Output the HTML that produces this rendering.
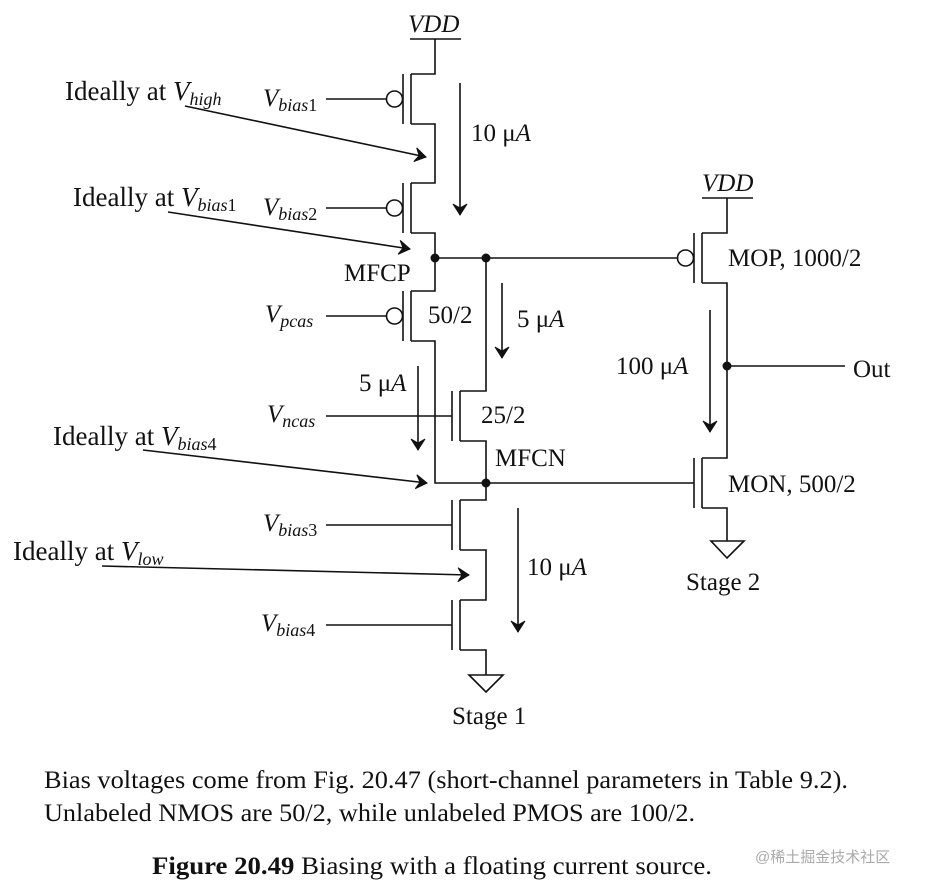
<!DOCTYPE html>
<html><head><meta charset="utf-8"><style>
html,body{margin:0;padding:0;background:#fff;}
svg{display:block;}
text{font-family:"Liberation Serif","Noto Serif CJK SC",serif;fill:#111;}
.l{font-size:25px;}
.k{font-size:27px;}
.s{font-size:18px;font-style:italic;}
.d{font-size:18px;}
.i{font-style:italic;}
</style></head><body>
<svg width="939" height="889" viewBox="0 0 939 889" xmlns="http://www.w3.org/2000/svg">
<defs>
<marker id="ah" markerWidth="16" markerHeight="16" refX="12" refY="8" orient="auto" markerUnits="userSpaceOnUse">
<path d="M1,1 L12,8 L1,15 L5,8 Z" fill="#111" stroke="#111" stroke-width="1"/>
</marker>
</defs>
<g stroke="#111" stroke-width="1.6" fill="none">
<line x1="410" y1="39" x2="461" y2="39"/>
<polyline points="435,39 435,74 411,74"/>
<line x1="411" y1="74" x2="411" y2="124"/><line x1="403" y1="74" x2="403" y2="124"/>
<polyline points="411,124 435,124 435,183 411,183"/>
<circle cx="394.5" cy="99" r="8"/><line x1="326" y1="99" x2="386" y2="99"/>
<line x1="411" y1="183" x2="411" y2="233"/><line x1="403" y1="183" x2="403" y2="233"/>
<polyline points="411,233 435,233 435,291 411,291"/>
<circle cx="394.5" cy="208" r="8"/><line x1="326" y1="208" x2="386" y2="208"/>
<line x1="411" y1="291" x2="411" y2="341"/><line x1="403" y1="291" x2="403" y2="341"/>
<polyline points="411,341 435,341 435,483 486,483"/>
<circle cx="394.5" cy="316" r="8"/><line x1="326" y1="316" x2="386" y2="316"/>
<line x1="435" y1="258" x2="677" y2="258"/>
<polyline points="486,258 486,391 460,391"/>
<line x1="460" y1="391" x2="460" y2="441"/><line x1="452" y1="391" x2="452" y2="441"/>
<polyline points="460,441 486,441 486,500 460,500"/>
<line x1="326" y1="416" x2="452" y2="416"/>
<line x1="460" y1="500" x2="460" y2="550"/><line x1="452" y1="500" x2="452" y2="550"/>
<polyline points="460,550 486,550 486,600 460,600"/>
<line x1="326" y1="525" x2="452" y2="525"/>
<line x1="460" y1="600" x2="460" y2="650"/><line x1="452" y1="600" x2="452" y2="650"/>
<polyline points="460,650 486,650 486,675"/>
<line x1="326" y1="625" x2="452" y2="625"/>
<polygon points="469,675 503,675 486,692"/>
<line x1="486" y1="483" x2="694" y2="483"/>
<line x1="702" y1="198" x2="753" y2="198"/>
<polyline points="727,198 727,233 702,233"/>
<line x1="702" y1="233" x2="702" y2="283"/><line x1="694" y1="233" x2="694" y2="283"/>
<circle cx="685.5" cy="258" r="8"/>
<polyline points="702,283 727,283 727,458 702,458"/>
<line x1="702" y1="458" x2="702" y2="508"/><line x1="694" y1="458" x2="694" y2="508"/>
<polyline points="702,508 727,508 727,541"/>
<polygon points="711,541 744,541 727,558"/>
<line x1="727" y1="366" x2="845" y2="366"/>
<line x1="460" y1="83" x2="460" y2="215" marker-end="url(#ah)"/>
<line x1="502" y1="283" x2="502" y2="358" marker-end="url(#ah)"/>
<line x1="418" y1="366" x2="418" y2="450" marker-end="url(#ah)"/>
<line x1="518" y1="508" x2="518" y2="632" marker-end="url(#ah)"/>
<line x1="710" y1="310" x2="710" y2="432" marker-end="url(#ah)"/>
<line x1="185" y1="106" x2="426" y2="157" marker-end="url(#ah)"/>
<line x1="168" y1="212" x2="410" y2="249" marker-end="url(#ah)"/>
<line x1="143" y1="450" x2="427" y2="483" marker-end="url(#ah)"/>
<line x1="102" y1="566" x2="469" y2="575" marker-end="url(#ah)"/>
</g>
<g fill="#111">
<circle cx="435" cy="258" r="4.5"/><circle cx="486" cy="258" r="4.5"/>
<circle cx="486" cy="483" r="4.5"/><circle cx="727" cy="366" r="4.5"/>
</g>
<text x="408" y="32" class="l i">VDD</text>
<text x="702" y="191" class="l i">VDD</text>
<text x="263" y="106" class="l"><tspan class="i">V</tspan><tspan class="s" dy="5">bias</tspan><tspan class="d">1</tspan></text>
<text x="263" y="215" class="l"><tspan class="i">V</tspan><tspan class="s" dy="5">bias</tspan><tspan class="d">2</tspan></text>
<text x="265" y="322" class="l"><tspan class="i">V</tspan><tspan class="s" dy="5">pcas</tspan></text>
<text x="267" y="422" class="l"><tspan class="i">V</tspan><tspan class="s" dy="5">ncas</tspan></text>
<text x="263" y="531" class="l"><tspan class="i">V</tspan><tspan class="s" dy="5">bias</tspan><tspan class="d">3</tspan></text>
<text x="261" y="631" class="l"><tspan class="i">V</tspan><tspan class="s" dy="5">bias</tspan><tspan class="d">4</tspan></text>
<text x="65" y="100" class="k">Ideally at <tspan class="i">V</tspan><tspan class="s" dy="5">high</tspan></text>
<text x="73" y="206" class="k">Ideally at <tspan class="i">V</tspan><tspan class="s" dy="5">bias</tspan><tspan class="d">1</tspan></text>
<text x="53" y="445" class="k">Ideally at <tspan class="i">V</tspan><tspan class="s" dy="5">bias</tspan><tspan class="d">4</tspan></text>
<text x="13" y="560" class="k">Ideally at <tspan class="i">V</tspan><tspan class="s" dy="5">low</tspan></text>
<text x="471" y="141" class="l">10 μ<tspan class="i">A</tspan></text>
<text x="517" y="327" class="l">5 μ<tspan class="i">A</tspan></text>
<text x="359" y="391" class="l">5 μ<tspan class="i">A</tspan></text>
<text x="527" y="575" class="l">10 μ<tspan class="i">A</tspan></text>
<text x="616" y="374" class="l">100 μ<tspan class="i">A</tspan></text>
<text x="344" y="281" class="l">MFCP</text>
<text x="428" y="323" class="l">50/2</text>
<text x="481" y="423" class="l">25/2</text>
<text x="495" y="466" class="l">MFCN</text>
<text x="728" y="266" class="l">MOP, 1000/2</text>
<text x="728" y="492" class="l">MON, 500/2</text>
<text x="853" y="377" class="l">Out</text>
<text x="686" y="590" class="l">Stage 2</text>
<text x="452" y="724" class="l">Stage 1</text>
<text x="44" y="788" font-size="25" textLength="804" lengthAdjust="spacingAndGlyphs">Bias voltages come from Fig. 20.47 (short-channel parameters in Table 9.2).</text>
<text x="44" y="821" font-size="25" textLength="651" lengthAdjust="spacingAndGlyphs">Unlabeled NMOS are 50/2, while unlabeled PMOS are 100/2.</text>
<text x="152" y="874" font-size="25" textLength="560" lengthAdjust="spacingAndGlyphs"><tspan font-weight="bold">Figure 20.49</tspan>   Biasing with a floating current source.</text>
<text x="755" y="862" font-size="15" style="fill:#aaa;font-family:'Liberation Sans','Noto Sans CJK SC',sans-serif">@稀土掘金技术社区</text>
</svg>
</body></html>
